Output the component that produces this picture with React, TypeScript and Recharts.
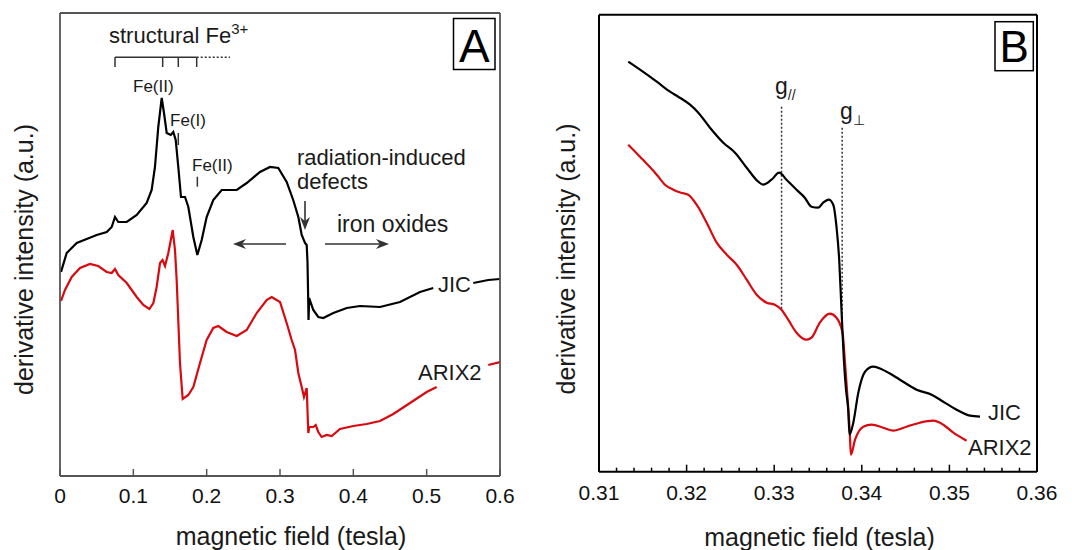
import React from "react";
import { LineChart, Line, XAxis, YAxis, ReferenceLine } from "recharts";

const FONT = '"Liberation Sans", Arial, Helvetica, sans-serif';

// ---- panel A: full sweep, 0 - 0.6 T ----
const ticksA = [0, 0.1, 0.2, 0.3, 0.4, 0.5, 0.6];

const jicFieldA = [
  0.0014, 0.0091, 0.0228, 0.0364, 0.05, 0.0637, 0.0705, 0.075, 0.0795, 0.091,
  0.1046, 0.1182, 0.125, 0.1295, 0.134, 0.1387, 0.1418, 0.1455, 0.151, 0.1545,
  0.1578, 0.1613, 0.165, 0.1705, 0.175, 0.1818, 0.1873, 0.1932, 0.2, 0.209,
  0.2205, 0.241, 0.2546, 0.2727, 0.2864, 0.2977, 0.3091, 0.318, 0.325, 0.3296,
  0.3341, 0.3364, 0.3375, 0.3384, 0.3389, 0.3398, 0.3454, 0.3522, 0.359, 0.3727,
  0.391, 0.4091, 0.4364, 0.4636, 0.4909, 0.509, 0.53, 0.5636, 0.584, 0.6,
];
const jicIntensityA = [
  204, 223, 233, 237, 241, 244, 249, 259, 254, 254,
  261, 273, 286, 309, 349, 378, 363, 343, 341, 344,
  336, 309, 279, 279, 269, 239, 221, 236, 259, 276,
  286, 286, 293, 304, 309, 308, 294, 276, 259, 241,
  233, 231, 214, 179, 156, 178, 166, 159, 158, 163,
  168, 170, 169, 174, 184, 188, null, 193, 196, 197,
];

const arixFieldA = [
  0.0014, 0.0068, 0.016, 0.0273, 0.0409, 0.0522, 0.0637, 0.0705, 0.075, 0.0795,
  0.091, 0.1046, 0.1136, 0.1218, 0.1273, 0.1318, 0.1364, 0.1398, 0.1432, 0.1477,
  0.1537, 0.1568, 0.1591, 0.1636, 0.1673, 0.175, 0.1818, 0.1909, 0.2, 0.209,
  0.2159, 0.2273, 0.241, 0.2546, 0.2682, 0.2818, 0.2887, 0.3, 0.3091, 0.3159,
  0.3205, 0.325, 0.3296, 0.3327, 0.3364, 0.3386, 0.34, 0.3454, 0.3487, 0.3522,
  0.3568, 0.3637, 0.3705, 0.3818, 0.4, 0.4182, 0.4364, 0.4545, 0.4773, 0.5,
  0.5136, 0.55, 0.584, 0.6,
];
const arixIntensityA = [
  175, 186, 199, 208, 212, 210, 204, 203, 207, 201,
  193, 179, 171, 167, 173, 189, 213, 216, 210, 223,
  246, 226, 196, 113, 77, 81, 89, 113, 136, 148,
  150, 144, 140, 146, 163, 176, 179, 174, 153, 136,
  126, 103, 89, 79, 88, 43, 49, 49, 51, 44,
  39, 41, 40, 47, 50, 52, 55, 62, 73, 84,
  89, null, 111, 114,
];

// ---- panel B: g ~ 2 region, 0.31 - 0.36 T ----
const ticksB = [
  0.31, 0.312, 0.314, 0.316, 0.318, 0.32, 0.322, 0.324, 0.326, 0.328,
  0.33, 0.332, 0.334, 0.336, 0.338, 0.34, 0.342, 0.344, 0.346, 0.348,
  0.35, 0.352, 0.354, 0.356, 0.358, 0.36,
];

const jicFieldB = [
  0.31334, 0.31468, 0.31659, 0.31811, 0.31905, 0.32039, 0.32134, 0.32267, 0.32419, 0.32553,
  0.32686, 0.32818, 0.32874, 0.32969, 0.33057, 0.3314, 0.33255, 0.33349, 0.33426, 0.33502,
  0.33559, 0.33623, 0.33674, 0.33711, 0.33742, 0.33768, 0.33795, 0.3382, 0.33845, 0.3386,
  0.33903, 0.3396, 0.34037, 0.34131, 0.34283, 0.34436, 0.34626, 0.34797, 0.3493, 0.35082,
  0.35235, 0.35349,
];
const jicIntensityB = [
  410, 402, 390, 380, 375, 367, 359, 344, 329, 319,
  304, 290, 287, 292, 299, 292, 282, 274, 265, 264,
  269, 272, 267, 245, 212, 162, 112, 82, 62, 37,
  49, 79, 100, 105, 100, 92, 82, 77, 70, 62,
  56, 55,
];

const arixFieldB = [
  0.31334, 0.31468, 0.31659, 0.31753, 0.31848, 0.31936, 0.32019, 0.32115, 0.32229, 0.32344,
  0.32458, 0.32572, 0.32686, 0.328, 0.32914, 0.33007, 0.33083, 0.3316, 0.33255, 0.33369,
  0.33426, 0.33521, 0.33635, 0.33711, 0.3378, 0.33806, 0.33833, 0.33863, 0.33875, 0.33923,
  0.34017, 0.34112, 0.34245, 0.3436, 0.34511, 0.34664, 0.34816, 0.3493, 0.35045, 0.35196,
];
const arixIntensityB = [
  327, 315, 297, 287, 282, 279, 277, 267, 249, 229,
  217, 207, 192, 177, 169, 167, 162, 152, 139, 132,
  134, 149, 158, 154, 139, 112, 79, 39, 17, 32,
  45, 47, 44, 41, 45, 49, 51, 47, 39, 31,
];

const toPoints = (xs: number[], ys: (number | null)[]) =>
  xs.map((x, i) => ({ x, y: ys[i] }));

const isMajorB = (v: number) => Math.abs(v * 100 - Math.round(v * 100)) < 1e-6;

const BottomTickA = ({ x, y, payload }: any) => (
  <g>
    <line x1={x} x2={x} y1={y} y2={y - 7} stroke="#555" strokeWidth={1.5} />
    <text x={x} y={y + 27} textAnchor="middle" fontSize={21} fill="#111" fontFamily={FONT}>
      {String(payload.value)}
    </text>
  </g>
);

const BottomTickB = ({ x, y, payload }: any) => {
  const major = isMajorB(payload.value);
  return (
    <g>
      <line x1={x} x2={x} y1={y} y2={y - (major ? 7 : 4)} stroke="#000" strokeWidth={1.5} />
      {major && (
        <text x={x} y={y + 28} textAnchor="middle" fontSize={21} fill="#111" fontFamily={FONT}>
          {payload.value.toFixed(2)}
        </text>
      )}
    </g>
  );
};

const TopTickB = ({ x, y, payload }: any) => (
  <line x1={x} x2={x} y1={y} y2={y + (isMajorB(payload.value) ? 7 : 4)} stroke="#000" strokeWidth={1.5} />
);

function Arrow({ x1, y1, x2, y2 }: { x1: number; y1: number; x2: number; y2: number }) {
  const a = Math.atan2(y2 - y1, x2 - x1);
  const L = 13;
  const W = 5;
  const bx = x2 - L * Math.cos(a);
  const by = y2 - L * Math.sin(a);
  const nx = -Math.sin(a) * W;
  const ny = Math.cos(a) * W;
  const ix = x2 - L * 0.7 * Math.cos(a);
  const iy = y2 - L * 0.7 * Math.sin(a);
  return (
    <g>
      <line x1={x1} y1={y1} x2={ix} y2={iy} stroke="#333" strokeWidth={1.6} />
      <path
        d={`M${x2},${y2} L${bx + nx},${by + ny} L${ix},${iy} L${bx - nx},${by - ny} Z`}
        fill="#333"
      />
    </g>
  );
}

export default function App() {
  const jicA = toPoints(jicFieldA, jicIntensityA);
  const arixA = toPoints(arixFieldA, arixIntensityA);
  const jicB = toPoints(jicFieldB, jicIntensityB);
  const arixB = toPoints(arixFieldB, arixIntensityB);

  const txt = { fontFamily: FONT, fill: "#1a1a1a" } as const;
  const greyAxis = { stroke: "#555", strokeWidth: 1.8 };
  const blackAxis = { stroke: "#000", strokeWidth: 2 };

  return (
    <div style={{ position: "relative", width: 1072, height: 550, background: "#fff", fontFamily: FONT }}>
      <style>{"body{margin:0}"}</style>

      {/* panel A */}
      <div style={{ position: "absolute", left: 0, top: 0 }}>
        <LineChart width={540} height={550} margin={{ top: 12, right: 39, bottom: 73, left: 59 }}>
          <XAxis
            dataKey="x"
            type="number"
            domain={[0, 0.6]}
            ticks={ticksA}
            interval={0}
            allowDataOverflow
            height={1}
            tickSize={0}
            tickMargin={0}
            tickLine={false}
            tick={BottomTickA}
            axisLine={greyAxis}
          />
          <XAxis
            xAxisId="top"
            orientation="top"
            type="number"
            domain={[0, 0.6]}
            allowDataOverflow
            height={1}
            tick={false}
            tickLine={false}
            axisLine={greyAxis}
          />
          <YAxis
            type="number"
            domain={[0, 463]}
            allowDataOverflow
            width={1}
            tick={false}
            tickLine={false}
            axisLine={greyAxis}
          />
          <YAxis
            yAxisId="right"
            orientation="right"
            type="number"
            domain={[0, 463]}
            allowDataOverflow
            width={1}
            tick={false}
            tickLine={false}
            axisLine={greyAxis}
          />
          {/* structural Fe3+ bracket */}
          <ReferenceLine segment={[{ x: 0.075, y: 418.7 }, { x: 0.1864, y: 418.7 }]} stroke="#333" strokeWidth={1.5} ifOverflow="visible" />
          <ReferenceLine segment={[{ x: 0.1864, y: 418.7 }, { x: 0.2318, y: 418.7 }]} stroke="#333" strokeWidth={1.5} strokeDasharray="2 2" ifOverflow="visible" />
          <ReferenceLine segment={[{ x: 0.075, y: 418.7 }, { x: 0.075, y: 409 }]} stroke="#333" strokeWidth={1.5} ifOverflow="visible" />
          <ReferenceLine segment={[{ x: 0.14, y: 418.7 }, { x: 0.14, y: 409 }]} stroke="#333" strokeWidth={1.5} ifOverflow="visible" />
          <ReferenceLine segment={[{ x: 0.1613, y: 418.7 }, { x: 0.1613, y: 409 }]} stroke="#333" strokeWidth={1.5} ifOverflow="visible" />
          <ReferenceLine segment={[{ x: 0.1864, y: 418.7 }, { x: 0.1864, y: 409 }]} stroke="#333" strokeWidth={1.5} ifOverflow="visible" />
          <ReferenceLine segment={[{ x: 0.1613, y: 343 }, { x: 0.1613, y: 331 }]} stroke="#333" strokeWidth={1.5} ifOverflow="visible" />
          <ReferenceLine segment={[{ x: 0.1873, y: 299.3 }, { x: 0.1873, y: 289.3 }]} stroke="#333" strokeWidth={1.5} ifOverflow="visible" />
          <Line data={arixA} dataKey="y" type="linear" stroke="#d8090f" strokeWidth={2.2} dot={false} isAnimationActive={false} connectNulls={false} />
          <Line data={jicA} dataKey="y" type="linear" stroke="#000" strokeWidth={2.2} dot={false} isAnimationActive={false} connectNulls={false} />
        </LineChart>
      </div>

      {/* panel B */}
      <div style={{ position: "absolute", left: 540, top: 0 }}>
        <LineChart width={532} height={550} margin={{ top: 13.7, right: 34, bottom: 77.3, left: 58 }}>
          <XAxis
            dataKey="x"
            type="number"
            domain={[0.31, 0.36]}
            ticks={ticksB}
            interval={0}
            allowDataOverflow
            height={1}
            tickSize={0}
            tickMargin={0}
            tickLine={false}
            tick={BottomTickB}
            axisLine={blackAxis}
          />
          <XAxis
            xAxisId="top"
            orientation="top"
            type="number"
            domain={[0.31, 0.36]}
            ticks={ticksB}
            interval={0}
            allowDataOverflow
            height={1}
            tickSize={0}
            tickMargin={0}
            tickLine={false}
            tick={TopTickB}
            axisLine={blackAxis}
          />
          <YAxis
            type="number"
            domain={[0, 457]}
            allowDataOverflow
            width={1}
            tick={false}
            tickLine={false}
            axisLine={blackAxis}
          />
          <YAxis
            yAxisId="right"
            orientation="right"
            type="number"
            domain={[0, 457]}
            allowDataOverflow
            width={1}
            tick={false}
            tickLine={false}
            axisLine={blackAxis}
          />
          <ReferenceLine segment={[{ x: 0.33084, y: 365 }, { x: 0.33084, y: 162 }]} stroke="#333" strokeWidth={1.5} strokeDasharray="2 2" ifOverflow="visible" />
          <ReferenceLine segment={[{ x: 0.33776, y: 344 }, { x: 0.33776, y: 139 }]} stroke="#333" strokeWidth={1.5} strokeDasharray="2 2" ifOverflow="visible" />
          <Line data={arixB} dataKey="y" type="monotone" stroke="#d8090f" strokeWidth={2.2} dot={false} isAnimationActive={false} />
          <Line data={jicB} dataKey="y" type="monotone" stroke="#000" strokeWidth={2.2} dot={false} isAnimationActive={false} />
        </LineChart>
      </div>

      {/* labels and annotations */}
      <svg width={1072} height={550} style={{ position: "absolute", left: 0, top: 0, pointerEvents: "none" }}>
        {/* panel A */}
        <text x={109} y={43} fontSize={22} {...txt}>
          structural Fe<tspan dy={-9} fontSize={15}>3+</tspan>
        </text>
        <text x={133} y={92} fontSize={17} {...txt}>Fe(II)</text>
        <text x={170} y={126} fontSize={17} {...txt}>Fe(I)</text>
        <text x={192} y={171} fontSize={17} {...txt}>Fe(II)</text>
        <text x={297} y={165} fontSize={22} {...txt}>radiation-induced</text>
        <text x={297} y={189} fontSize={22} {...txt}>defects</text>
        <text x={337} y={232} fontSize={23} {...txt}>iron oxides</text>
        <text x={438} y={292} fontSize={22} {...txt}>JIC</text>
        <text x={418} y={380} fontSize={22} {...txt}>ARIX2</text>
        <Arrow x1={305} y1={201} x2={305} y2={230} />
        <Arrow x1={286} y1={244} x2={233} y2={244} />
        <Arrow x1={325} y1={244} x2={389} y2={244} />
        <rect x={453.5} y={18.5} width={41.5} height={51} fill="#fff" stroke="#000" strokeWidth={1.5} />
        <text x={474.3} y={62} fontSize={46} textAnchor="middle" {...txt} fill="#000">A</text>
        <text x={291} y={545} fontSize={25} textAnchor="middle" {...txt}>magnetic field (tesla)</text>
        <text x={0} y={0} fontSize={25} textAnchor="middle" transform="translate(33,259.5) rotate(-90)" {...txt}>
          derivative intensity (a.u.)
        </text>

        {/* panel B */}
        <text x={775} y={94} fontSize={23} {...txt}>
          g<tspan dy={6} fontSize={14}>//</tspan>
        </text>
        <text x={840} y={119} fontSize={23} {...txt}>
          g<tspan dy={6} fontSize={14}>⊥</tspan>
        </text>
        <text x={988} y={420} fontSize={22} {...txt}>JIC</text>
        <text x={968} y={455} fontSize={22} {...txt}>ARIX2</text>
        <rect x={995} y={21.7} width={38.3} height={49} fill="#fff" stroke="#000" strokeWidth={1.5} />
        <text x={1014.2} y={62} fontSize={44} textAnchor="middle" {...txt} fill="#000">B</text>
        <text x={819.5} y={546} fontSize={25} textAnchor="middle" {...txt}>magnetic field (tesla)</text>
        <text x={0} y={0} fontSize={25} textAnchor="middle" transform="translate(575,259) rotate(-90)" {...txt}>
          derivative intensity (a.u.)
        </text>
      </svg>
    </div>
  );
}
